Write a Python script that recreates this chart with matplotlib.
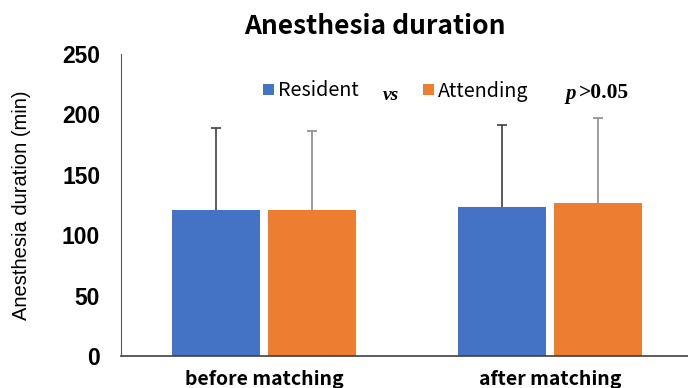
import matplotlib
matplotlib.use("Agg")
import matplotlib.pyplot as plt
import numpy as np

groups = ["before matching", "after matching"]
series = ["Resident", "Attending"]
means = {"Resident": [121, 123], "Attending": [121, 127]}
sds = {"Resident": [68, 68], "Attending": [65, 70]}
colors = {"Resident": "#4472C4", "Attending": "#ED7D31"}
err_colors = {"Resident": "#404040", "Attending": "#8C8C8C"}
yticks = [0, 50, 100, 150, 200, 250]

fig = plt.figure(figsize=(6.88, 3.88), dpi=100)
ax = fig.add_axes([121 / 688, 32 / 388, 572 / 688, 302 / 388])

x = np.arange(len(groups))
width = 0.305
offsets = [-0.168, 0.168]
for s, off in zip(series, offsets):
    ax.bar(x + off, means[s], width, color=colors[s], label=s, zorder=2)
    _, caps, _ = ax.errorbar(x + off, means[s], yerr=[np.zeros(len(groups)), sds[s]],
                             fmt="none", ecolor=err_colors[s], elinewidth=1.2,
                             capsize=3.5, capthick=1.2, zorder=3)
    caps[0].set_visible(False)  # only the upper cap

ax.set_xlim(-0.5, 1.5)
ax.set_ylim(0, 250)
ax.set_yticks(yticks)
ax.set_yticklabels([str(v) for v in yticks], fontsize=16.5, fontweight="bold",
                   family="Liberation Sans")
ax.set_xticks(x)
ax.set_xticklabels(groups, fontsize=14, fontweight="bold", family="Noto Sans CJK SC")
ax.tick_params(axis="y", length=0, pad=15)
ax.tick_params(axis="x", length=0, pad=10)
for side in ["top", "right"]:
    ax.spines[side].set_visible(False)
ax.spines["left"].set_color("#595959")
ax.spines["bottom"].set_color("#404040")
ax.spines["bottom"].set_linewidth(1.2)

ax.set_ylabel("Anesthesia duration (min)", fontsize=14.5, family="Liberation Sans", labelpad=22)
fig.text(375 / 688, 1 - 27 / 388, "Anesthesia duration", ha="center", va="center",
         fontsize=19, fontweight="bold", family="Noto Sans CJK SC")

leg = ax.legend(loc="center left", bbox_to_anchor=(245 / 688, 1 - 91 / 388),
                bbox_transform=fig.transFigure, ncol=2, frameon=False,
                prop={"family": "Noto Sans CJK SC", "size": 14.2},
                handlelength=0.55, handleheight=0.55, handletextpad=0.2,
                columnspacing=3.3)
fig.text(391 / 688, 1 - 95 / 388, "vs", ha="center", va="center", fontsize=14,
         fontweight="bold", style="italic", family="Liberation Serif")
fig.text(565 / 688, 1 - 94 / 388, "p", ha="left", va="center", fontsize=15,
         fontweight="bold", style="italic", family="Liberation Serif")
fig.text(579 / 688, 1 - 93 / 388, ">0.05", ha="left", va="center", fontsize=15.5,
         fontweight="bold", family="Liberation Serif")

fig.savefig("out.png", dpi=100)
